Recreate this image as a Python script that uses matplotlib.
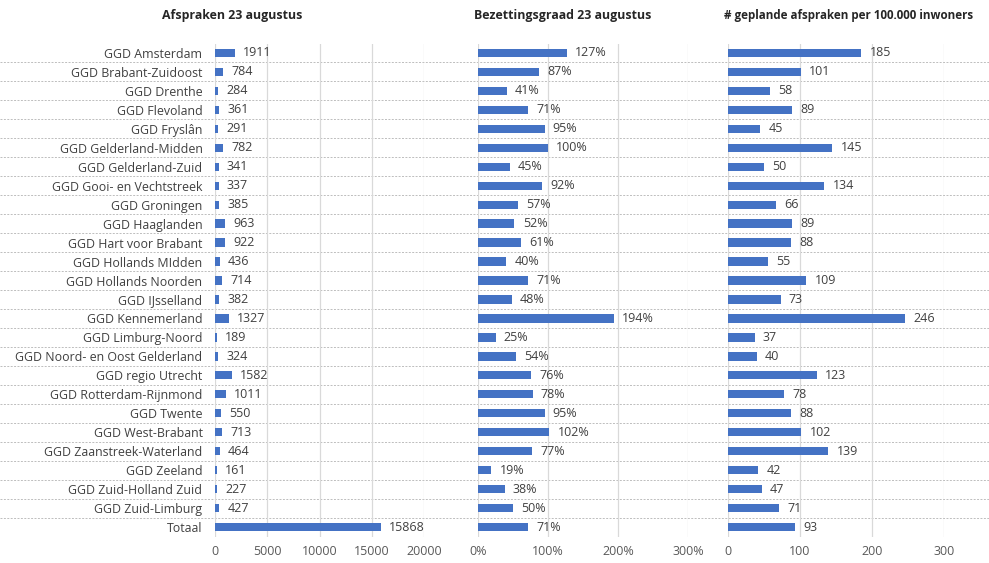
import matplotlib
matplotlib.use("Agg")
import matplotlib.pyplot as plt
import numpy as np

regions = ["GGD Amsterdam", "GGD Brabant-Zuidoost", "GGD Drenthe", "GGD Flevoland",
           "GGD Fryslân", "GGD Gelderland-Midden", "GGD Gelderland-Zuid",
           "GGD Gooi- en Vechtstreek", "GGD Groningen", "GGD Haaglanden",
           "GGD Hart voor Brabant", "GGD Hollands MIdden", "GGD Hollands Noorden",
           "GGD IJsselland", "GGD Kennemerland", "GGD Limburg-Noord",
           "GGD Noord- en Oost Gelderland", "GGD regio Utrecht", "GGD Rotterdam-Rijnmond",
           "GGD Twente", "GGD West-Brabant", "GGD Zaanstreek-Waterland", "GGD Zeeland",
           "GGD Zuid-Holland Zuid", "GGD Zuid-Limburg", "Totaal"]
afspraken = [1911, 784, 284, 361, 291, 782, 341, 337, 385, 963, 922, 436, 714, 382,
             1327, 189, 324, 1582, 1011, 550, 713, 464, 161, 227, 427, 15868]
bezetting = [127, 87, 41, 71, 95, 100, 45, 92, 57, 52, 61, 40, 71, 48, 194, 25, 54,
             76, 78, 95, 102, 77, 19, 38, 50, 71]
per100k = [185, 101, 58, 89, 45, 145, 50, 134, 66, 89, 88, 55, 109, 73, 246, 37, 40,
           123, 78, 88, 102, 139, 42, 47, 71, 93]
titles = ["Afspraken 23 augustus", "Bezettingsgraad 23 augustus",
          "# geplande afspraken per 100.000 inwoners"]
ticks1 = [0, 5000, 10000, 15000, 20000]
ticks2 = [0, 100, 200, 300]
ticks3 = [0, 100, 200, 300]

plt.rcParams['font.family'] = ['Open Sans', 'DejaVu Sans']
W, H = 989, 563
fig = plt.figure(figsize=(W / 100, H / 100), dpi=100)

BLUE = "#4472C4"
GRID = "#d9d9d9"
TXT = "#404040"
n = len(regions)
y = np.arange(n)
top_px, bot_px = 43.5, 536.5
bottom = 1 - bot_px / H
height = (bot_px - top_px) / H

# background axes for dashed row separators
bg = fig.add_axes([0, bottom, 1, height], zorder=0)
bg.set_xlim(0, 1)
bg.set_ylim(n - 0.5, -0.5)
bg.axis("off")
for i in range(n - 1):
    bg.axhline(i + 0.5, color="#bdbdbd", lw=0.7, ls=(0, (2, 1.5)))
bg.patch.set_alpha(0)

panels = [
    (215, 424, afspraken, ticks1, [str(t) for t in ticks1], lambda v: f"{v}", 20000),
    (478, 688, bezetting, ticks2, [f"{t}%" for t in ticks2], lambda v: f"{v}%", 300),
    (728, 944, per100k, ticks3, [str(t) for t in ticks3], lambda v: f"{v}", 300),
]
title_x = [232, 563, 724]
title_ha = ["center", "center", "left"]
title_fs = [8.9, 8.9, 8.4]

for k, (x0, x1, vals, ticks, tlabels, fmt, xmax) in enumerate(panels):
    ax = fig.add_axes([x0 / W, bottom, (x1 - x0) / W, height], zorder=1)
    ax.patch.set_alpha(0)
    ax.barh(y, vals, height=0.44, color=BLUE, zorder=3)
    ax.set_xlim(0, xmax)
    ax.set_ylim(n - 0.5, -0.5)
    ax.set_xticks(ticks)
    ax.set_xticklabels(tlabels)
    for t in ticks:
        ax.axvline(t, color=GRID, lw=0.9, zorder=1)
    for s in ax.spines.values():
        s.set_visible(False)
    ax.tick_params(axis="x", length=0, pad=6, labelsize=9, labelcolor="#595959")
    ax.tick_params(axis="y", length=0)
    if k == 0:
        ax.set_yticks(y)
        ax.set_yticklabels(regions, fontsize=8.9, color=TXT)
        ax.tick_params(axis="y", pad=9)
    else:
        ax.set_yticks([])
    for yi, v in zip(y, vals):
        ax.annotate(fmt(v), (v, yi), xytext=(6, 0), textcoords="offset points",
                    va="center", ha="left", fontsize=9, color=TXT, clip_on=False)
    fig.text(title_x[k] / W, 1 - 15 / H, titles[k], ha=title_ha[k], va="center",
             fontsize=title_fs[k], fontweight="bold", color="#262626")

fig.savefig("out.png", dpi=100, facecolor="white")
